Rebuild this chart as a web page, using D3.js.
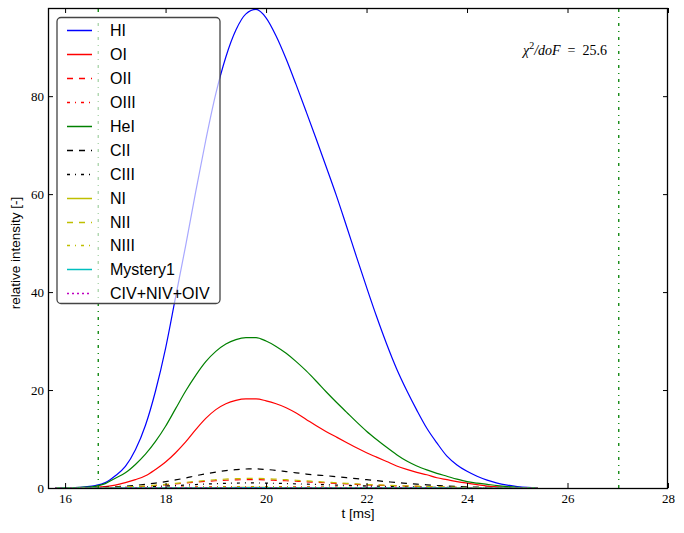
<!DOCTYPE html>
<html><head><meta charset="utf-8">
<script src="https://cdn.jsdelivr.net/npm/d3@7"></script>
<style>body{margin:0;background:#fff}svg{display:block}</style>
</head><body>
<svg id="c" width="684" height="533"></svg>
<script>
const t = [15.8,16.0,16.2,16.4,16.6,16.8,17.0,17.2,17.4,17.6,17.8,18.0,18.2,18.4,18.6,18.8,19.0,19.2,19.4,19.6,19.8,20.0,20.2,20.4,20.6,20.8,21.0,21.2,21.4,21.6,21.8,22.0,22.2,22.4,22.6,22.8,23.0,23.2,23.4,23.6,23.8,24.0,24.2,24.4,24.6,24.8,25.0,25.2,25.4];
const HI = [0,0.02,0.1,0.25,0.5,1.1,2.5,4.4,7.8,12.8,19.8,28.5,39,49.5,60.5,71,80.5,88,93.5,96.8,97.7,96.0,92.3,87.6,82.3,76.8,71.2,65.5,59.7,53.5,47.2,41,35,29.4,24.3,19.9,15.9,12.2,9.2,6.5,4.7,3.4,2.4,1.6,1.0,0.6,0.3,0.12,0.03];
const OI = [0,0.01,0.03,0.08,0.15,0.3,0.6,1.1,1.7,2.5,3.8,5.3,7.2,9.4,11.9,14.2,16.0,17.2,17.9,18.2,18.2,17.8,17.2,16.4,15.3,14.0,12.7,11.5,10.4,9.3,8.2,7.2,6.3,5.4,4.5,3.8,3.2,2.7,2.1,1.7,1.3,1.0,0.7,0.4,0.25,0.12,0.05,0,0];
const OII = [0,0,0.01,0.02,0.04,0.07,0.1,0.17,0.26,0.36,0.5,0.65,0.82,1.0,1.18,1.35,1.48,1.58,1.65,1.7,1.7,1.66,1.57,1.48,1.38,1.27,1.16,1.05,0.94,0.84,0.74,0.65,0.57,0.5,0.44,0.38,0.32,0.27,0.22,0.18,0.15,0.11,0.08,0.06,0.04,0.02,0.01,0,0];
const OIII = [0,0,0,0,0.01,0.01,0.02,0.03,0.05,0.07,0.09,0.12,0.15,0.18,0.21,0.24,0.26,0.28,0.29,0.3,0.3,0.29,0.28,0.26,0.24,0.22,0.2,0.18,0.16,0.14,0.12,0.11,0.09,0.08,0.07,0.06,0.05,0.04,0.03,0.03,0.02,0.02,0.01,0.01,0.01,0,0,0,0];
const HeI = [0,0.02,0.08,0.18,0.35,0.9,2.0,3.1,4.8,6.9,9.5,12.6,16.2,19.8,23.0,25.8,27.9,29.4,30.3,30.7,30.7,30.0,28.9,27.5,25.8,23.9,21.8,19.6,17.5,15.5,13.5,11.6,9.9,8.3,6.8,5.5,4.5,3.7,3.0,2.4,1.8,1.3,1.0,0.75,0.5,0.3,0.15,0.05,0];
const CII = [0,0.01,0.02,0.05,0.1,0.15,0.25,0.38,0.55,0.75,1.0,1.3,1.65,2.05,2.5,2.9,3.25,3.55,3.75,3.88,3.9,3.78,3.6,3.35,3.1,2.85,2.65,2.5,2.3,2.1,1.9,1.7,1.5,1.3,1.1,0.95,0.8,0.65,0.52,0.42,0.32,0.25,0.18,0.12,0.08,0.04,0.02,0,0];
const CIII = [0,0,0.01,0.02,0.03,0.05,0.08,0.12,0.17,0.23,0.31,0.4,0.5,0.6,0.7,0.8,0.88,0.95,1.0,1.03,1.03,1.0,0.96,0.91,0.85,0.79,0.73,0.66,0.6,0.54,0.48,0.42,0.37,0.32,0.28,0.24,0.2,0.17,0.14,0.11,0.09,0.07,0.05,0.04,0.03,0.02,0.01,0,0];
const NI = [0,0,0,0,0,0.01,0.01,0.02,0.02,0.03,0.04,0.05,0.06,0.07,0.08,0.09,0.1,0.1,0.11,0.11,0.11,0.11,0.1,0.1,0.09,0.09,0.08,0.07,0.07,0.06,0.05,0.05,0.04,0.04,0.03,0.03,0.02,0.02,0.02,0.01,0.01,0.01,0.01,0,0,0,0,0,0];
const NII = [0,0,0.01,0.02,0.05,0.08,0.12,0.2,0.3,0.42,0.58,0.75,0.95,1.15,1.35,1.55,1.7,1.82,1.9,1.95,1.95,1.9,1.8,1.7,1.58,1.45,1.32,1.2,1.07,0.95,0.84,0.74,0.65,0.57,0.5,0.43,0.37,0.31,0.26,0.21,0.17,0.13,0.1,0.07,0.04,0.02,0.01,0,0];
const NIII = [0,0,0,0,0.01,0.01,0.02,0.03,0.04,0.06,0.08,0.1,0.12,0.15,0.17,0.19,0.21,0.23,0.24,0.25,0.25,0.24,0.23,0.22,0.2,0.18,0.17,0.15,0.13,0.12,0.1,0.09,0.08,0.07,0.06,0.05,0.04,0.03,0.03,0.02,0.02,0.01,0.01,0.01,0,0,0,0,0];
const Mystery1 = [0,0,0,0,0,0,0.01,0.01,0.01,0.02,0.02,0.03,0.03,0.04,0.04,0.05,0.05,0.05,0.06,0.06,0.06,0.06,0.05,0.05,0.05,0.04,0.04,0.04,0.03,0.03,0.03,0.02,0.02,0.02,0.02,0.01,0.01,0.01,0.01,0.01,0,0,0,0,0,0,0,0,0];
const CIV = [0,0,0,0,0,0,0,0.01,0.01,0.01,0.02,0.02,0.03,0.03,0.04,0.04,0.05,0.05,0.05,0.05,0.05,0.05,0.05,0.04,0.04,0.04,0.03,0.03,0.03,0.02,0.02,0.02,0.02,0.01,0.01,0.01,0.01,0.01,0,0,0,0,0,0,0,0,0,0,0];

const seriesNames = ["HI","OI","OII","OIII","HeI","CII","CIII","NI","NII","NIII","Mystery1","CIV+NIV+OIV"];
const seriesValues = [HI,OI,OII,OIII,HeI,CII,CIII,NI,NII,NIII,Mystery1,CIV];
const seriesColors = ["#0000ff","#ff0000","#ff0000","#ff0000","#008000","#000000","#000000","#bfbf00","#bfbf00","#bfbf00","#00bfbf","#bf00bf"];
const seriesStyle = ["solid","solid","dashed","dashdot","solid","dashed","dashdot","solid","dashed","dashdot","solid","dotted"];
const vlines = [16.66, 27.02];
const xTicks = [16,18,20,22,24,26,28];
const yTicks = [0,20,40,60,80];
const xDomain = [15.66, 28];
const yDomain = [0, 98];
const chiText = "25.6";

const dashOf = s => ({solid:null, dashed:"6,6", dashdot:"3,5,1,5", dotted:"2,3"})[s];

const svg = d3.select("#c");
const L = 48, R = 668, T = 8, B = 488;
const x = d3.scaleLinear().domain(xDomain).range([L, R]);
const y = d3.scaleLinear().domain(yDomain).range([B, T]);

svg.append("rect").attr("width",684).attr("height",533).attr("fill","#fff");
svg.append("defs").append("clipPath").attr("id","clip")
  .append("rect").attr("x",L).attr("y",T).attr("width",R-L).attr("height",B-T);

const plot = svg.append("g").attr("clip-path","url(#clip)");

// series
const line = d3.line().x((d,i)=>x(t[i])).y(d=>y(d)).curve(d3.curveMonotoneX);
seriesValues.forEach((vals,k)=>{
  plot.append("path").datum(vals).attr("d",line)
    .attr("fill","none").attr("stroke",seriesColors[k]).attr("stroke-width",1.2)
    .attr("stroke-dasharray",dashOf(seriesStyle[k]));
});
// vertical markers
vlines.forEach(v=>{
  plot.append("line").attr("x1",x(v)).attr("x2",x(v)).attr("y1",B).attr("y2",T)
    .attr("stroke","#008000").attr("stroke-width",1.3).attr("stroke-dasharray","3,5,1,5");
});

// axes
const fTick = "'Liberation Serif','Times New Roman',serif";
const xb = svg.append("g").attr("transform",`translate(0,${B})`)
  .call(d3.axisBottom(x).tickValues(xTicks).tickSizeInner(-5).tickSizeOuter(0).tickPadding(6).tickFormat(d3.format("d")));
const xt = svg.append("g").attr("transform",`translate(0,${T})`)
  .call(d3.axisTop(x).tickValues(xTicks).tickSizeInner(-5).tickSizeOuter(0).tickFormat(""));
const yl = svg.append("g").attr("transform",`translate(${L},0)`)
  .call(d3.axisLeft(y).tickValues(yTicks).tickSizeInner(-5).tickSizeOuter(0).tickPadding(4).tickFormat(d3.format("d")));
const yr = svg.append("g").attr("transform",`translate(${R},0)`)
  .call(d3.axisRight(y).tickValues(yTicks).tickSizeInner(-5).tickSizeOuter(0).tickFormat(""));
[xb,xt,yl,yr].forEach(g=>{
  g.select(".domain").remove();
  g.selectAll("line").attr("stroke","#000").attr("stroke-width",1);
  g.selectAll("text").attr("font-family",fTick).attr("font-size",13).attr("fill","#000");
});

svg.append("rect").attr("x",L+0.5).attr("y",T+0.5).attr("width",R-L-1).attr("height",B-T)
  .attr("fill","none").attr("stroke","#000").attr("stroke-width",1.3);

// axis labels
const fSans = "'Liberation Sans',Arial,Helvetica,sans-serif";
svg.append("text").attr("x",358).attr("y",518).attr("text-anchor","middle")
  .attr("font-family",fSans).attr("font-size",13.5).text("t [ms]");
svg.append("text").attr("transform","translate(20,253) rotate(-90)").attr("text-anchor","middle")
  .attr("font-family",fSans).attr("font-size",13.5).text("relative intensity [-]");

// chi^2 annotation
const chi = svg.append("text").attr("x",607).attr("y",55).attr("text-anchor","end")
  .attr("font-family",fTick).attr("font-size",14);
chi.append("tspan").attr("font-style","italic").text("χ");
chi.append("tspan").attr("font-size",10).attr("dy",-6).text("2");
chi.append("tspan").attr("dy",6).attr("font-style","italic").text("/doF");
chi.append("tspan").text("\u2002=\u2002" + chiText);

// legend
const lg = svg.append("g");
lg.append("rect").attr("x",57).attr("y",17.5).attr("width",163).attr("height",286).attr("rx",4)
  .attr("fill","#fff").attr("fill-opacity",0.66).attr("stroke","#444").attr("stroke-width",1.3);
seriesNames.forEach((n,k)=>{
  const cy = Math.round(30 + k*23.94);
  lg.append("line").attr("x1",67).attr("x2",92).attr("y1",cy+0.5).attr("y2",cy+0.5)
    .attr("stroke",seriesColors[k]).attr("stroke-width",1.5)
    .attr("stroke-dasharray",dashOf(seriesStyle[k]));
  lg.append("text").attr("x",110).attr("y",cy).attr("dy","0.36em")
    .attr("font-family",fSans).attr("font-size",16).text(n);
});
</script>
</body></html>
